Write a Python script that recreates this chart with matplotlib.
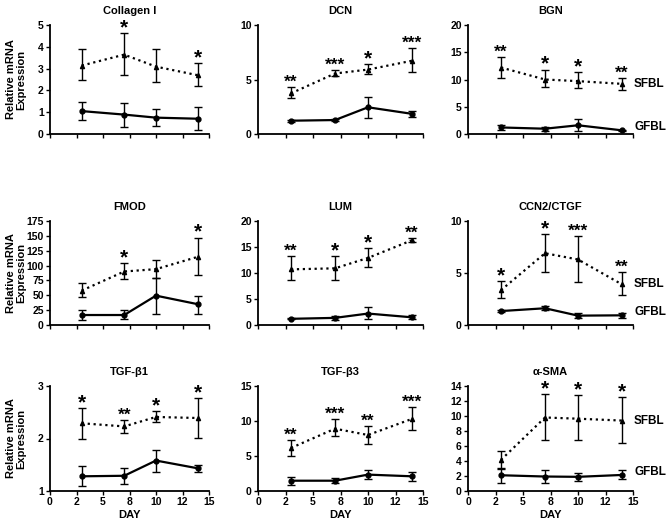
import numpy as np
import matplotlib
matplotlib.use('Agg')
import matplotlib.pyplot as plt

plt.rcParams['font.family'] = ['Liberation Sans', 'DejaVu Sans']
plt.rcParams['font.weight'] = 'bold'
plt.rcParams['mathtext.default'] = 'regular'

days = [3, 7, 10, 14]
xtick_pos = [0, 2.5, 5, 7.5, 10, 12.5, 15]
xtick_lab = ['0', '2', '5', '8', '10', '12', '15']

titles = ['Collagen I', 'DCN', 'BGN',
          'FMOD', 'LUM', 'CCN2/CTGF',
          'TGF-\u03b21', 'TGF-\u03b23', '\u03b1-SMA']

# SFBL: mean, upper, lower
sfbl_mean = [[3.14, 3.64, 3.09, 2.69], [3.73, 5.55, 5.91, 6.72], [12.2, 10.0, 9.7, 9.2],
             [58, 90, 94, 115], [10.7, 10.9, 12.9, 16.3], [3.35, 6.9, 6.3, 3.9],
             [2.29, 2.23, 2.41, 2.39], [6.15, 8.9, 8.0, 10.3], [4.15, 9.8, 9.64, 9.39]]
sfbl_up = [[3.88, 4.62, 3.88, 3.25], [4.27, 5.91, 6.42, 7.91], [14.2, 11.8, 11.3, 10.3],
           [70.7, 104, 109, 147], [13.2, 13.3, 14.8, 16.8], [4.19, 8.73, 8.57, 5.09],
           [2.58, 2.36, 2.52, 2.77], [7.34, 10.3, 9.27, 12.0], [5.32, 12.95, 12.74, 12.53]]
sfbl_lo = [[2.47, 2.72, 2.37, 2.2], [3.31, 5.28, 5.46, 5.73], [10.2, 8.6, 8.4, 8.1],
           [46.6, 77.4, 79, 84.7], [8.6, 8.66, 11.2, 15.9], [2.55, 5.12, 4.13, 2.86],
           [2.0, 2.1, 2.31, 2.01], [5.05, 7.8, 6.7, 8.72], [3.0, 6.83, 6.75, 6.45]]

# GFBL: mean, upper, lower
gfbl_mean = [[1.05, 0.89, 0.75, 0.70], [1.22, 1.28, 2.45, 1.85], [1.2, 0.97, 1.6, 0.67],
             [16.8, 16.8, 49.4, 34.8], [1.19, 1.37, 2.2, 1.48], [1.34, 1.61, 0.9, 0.93],
             [1.28, 1.29, 1.58, 1.43], [1.47, 1.47, 2.34, 2.1], [2.1, 1.93, 1.89, 2.14]]
gfbl_up = [[1.45, 1.44, 1.16, 1.22], [1.3, 1.36, 3.4, 2.15], [1.7, 1.33, 2.7, 0.75],
           [25.8, 24.7, 79.6, 48.8], [1.3, 1.66, 3.38, 1.84], [1.42, 1.8, 1.15, 1.12],
           [1.47, 1.44, 1.79, 1.49], [2.0, 1.83, 3.03, 2.66], [3.1, 2.77, 2.39, 2.77]]
gfbl_lo = [[0.66, 0.31, 0.36, 0.2], [1.14, 1.2, 1.43, 1.52], [0.7, 0.6, 0.5, 0.6],
           [7.9, 10.1, 19, 19], [1.08, 1.0, 1.13, 1.13], [1.26, 1.4, 0.65, 0.71],
           [1.09, 1.14, 1.37, 1.36], [0.92, 1.1, 1.7, 1.5], [1.09, 1.13, 1.38, 1.59]]

stars = [['', '*', '', '*'], ['**', '***', '*', '***'], ['**', '*', '*', '**'],
         ['', '*', '', '*'], ['**', '*', '*', '**'], ['*', '*', '***', '**'],
         ['*', '**', '*', '*'], ['**', '***', '**', '***'], ['', '*', '*', '*']]

ylims = [(0, 5), (0, 10), (0, 20), (0, 175), (0, 20), (0, 10), (1, 3), (0, 15), (0, 14)]
yticks = [np.arange(0, 6, 1), [0, 5, 10], np.arange(0, 21, 5), np.arange(0, 176, 25),
          np.arange(0, 21, 5), [0, 5, 10], [1, 2, 3], np.arange(0, 16, 5), np.arange(0, 15, 2)]

W, H = 670, 527
cols = [(50, 209), (258, 423), (468, 633)]
rows = [(25, 134), (221, 325), (386, 491)]

fig = plt.figure(figsize=(W / 100, H / 100), dpi=100)

for k in range(9):
    r, c = divmod(k, 3)
    x0, x1 = cols[c]
    y0, y1 = rows[r]
    ax = fig.add_axes([x0 / W, 1 - y1 / H, (x1 - x0) / W, (y1 - y0) / H])

    sm = np.array(sfbl_mean[k])
    gm = np.array(gfbl_mean[k])
    ax.errorbar(days, sm, yerr=[sm - np.array(sfbl_lo[k]), np.array(sfbl_up[k]) - sm],
                color='black', linestyle=':', linewidth=1.6, marker='^', markersize=3,
                capsize=3, elinewidth=1, capthick=1, clip_on=False)
    ax.errorbar(days, gm, yerr=[gm - np.array(gfbl_lo[k]), np.array(gfbl_up[k]) - gm],
                color='black', linestyle='-', linewidth=1.6, marker='o', markersize=3.5,
                capsize=3, elinewidth=1, capthick=1, clip_on=False)

    for d, s, u in zip(days, stars[k], sfbl_up[k]):
        if s:
            fs = 15 if s == '*' else 12.5
            off = -3 if s == '*' else -2
            ax.annotate(s, (d, u), xytext=(0, off), textcoords='offset points',
                        ha='center', va='bottom', fontsize=fs, fontweight='bold',
                        annotation_clip=False)

    ax.set_xlim(0, 15)
    ax.set_ylim(*ylims[k])
    ax.set_yticks(yticks[k])
    ax.set_xticks(xtick_pos)
    ax.set_title(titles[k], fontsize=8, fontweight='bold', pad=8)
    for side in ['top', 'right']:
        ax.spines[side].set_visible(False)
    for side in ['left', 'bottom']:
        ax.spines[side].set_linewidth(1.3)
    ax.tick_params(direction='out', length=3, width=1, labelsize=7.5, pad=1.5)
    if r == 2:
        ax.set_xticklabels(xtick_lab)
        ax.set_xlabel('DAY', fontsize=8, fontweight='bold', labelpad=2)
    else:
        ax.set_xticklabels([])
    if c == 0:
        fig.text(16 / W, 1 - (y0 + y1) / 2 / H, 'Relative mRNA\nExpression', fontsize=8,
                 fontweight='bold', rotation=90, ha='center', va='center',
                 linespacing=1.0)
    if c == 2:
        ax.text(15.1, sfbl_mean[k][-1], 'SFBL', fontsize=8.5, fontweight='bold',
                ha='left', va='center', clip_on=False)
        ax.text(15.1, gfbl_mean[k][-1] + (ylims[k][1] - ylims[k][0]) * 0.03, 'GFBL',
                fontsize=8.5, fontweight='bold', ha='left', va='center', clip_on=False)
    for lab in ax.get_yticklabels() + ax.get_xticklabels():
        lab.set_fontweight('bold')

fig.savefig('out.png', dpi=100)
